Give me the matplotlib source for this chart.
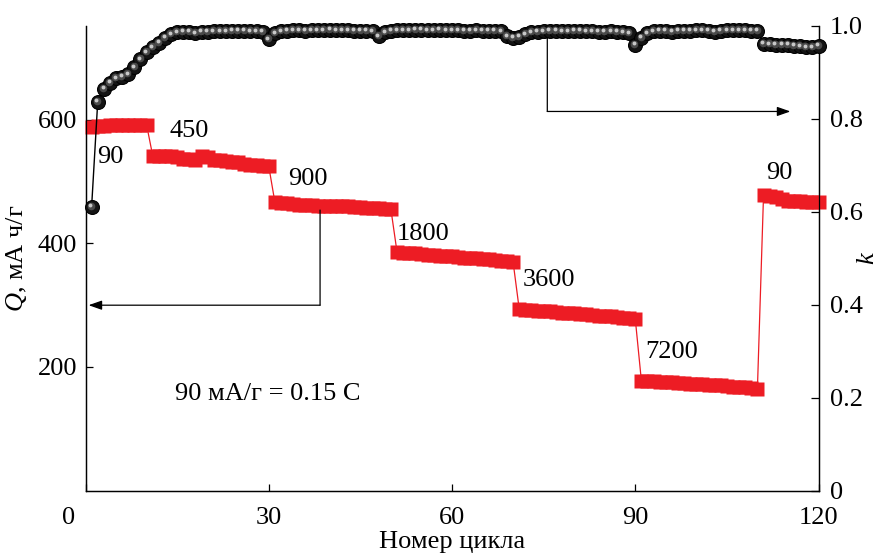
import numpy as np
import matplotlib
matplotlib.use('Agg')
import matplotlib.pyplot as plt
from matplotlib.transforms import ScaledTranslation

plt.rcParams['font.family'] = ['Liberation Serif', 'DejaVu Serif']
plt.rcParams['mathtext.fontset'] = 'custom'
plt.rcParams['mathtext.rm'] = 'Liberation Serif'
plt.rcParams['mathtext.it'] = 'Liberation Serif:italic'

# ---------------- data ----------------
cycles = np.arange(1, 121)

k_values = [
    0.611, 0.837, 0.865, 0.878, 0.887, 0.891, 0.896, 0.911, 0.928, 0.943,
    0.954, 0.964, 0.975, 0.982, 0.986, 0.988, 0.988, 0.984, 0.987, 0.988,
    0.989, 0.989, 0.989, 0.990, 0.990, 0.990, 0.989, 0.989, 0.988, 0.971,
    0.984, 0.989,
    0.990, 0.991, 0.991, 0.990, 0.991, 0.991, 0.991, 0.992, 0.991, 0.991,
    0.991, 0.990, 0.990, 0.990, 0.989,
    0.978, 0.986,
    0.990, 0.991, 0.991, 0.991, 0.992, 0.992, 0.991, 0.991, 0.992, 0.991,
    0.991, 0.991, 0.990, 0.990, 0.991, 0.990, 0.990, 0.990, 0.989,
    0.978, 0.975, 0.977, 0.982, 0.986,
    0.988, 0.989, 0.990, 0.990, 0.989, 0.989, 0.990, 0.990, 0.989, 0.989,
    0.988, 0.988, 0.989, 0.988, 0.986, 0.984,
    0.960, 0.975, 0.984,
    0.989, 0.990, 0.990, 0.987, 0.990, 0.990, 0.990, 0.991, 0.991, 0.990,
    0.988, 0.990, 0.991, 0.991, 0.991, 0.991, 0.990, 0.990,
    0.962, 0.961, 0.960, 0.960, 0.959, 0.958, 0.956, 0.954, 0.954, 0.958,
]

q_rate90 = [589, 590, 590, 591, 591, 591, 592, 592, 592, 592]
q_rate450 = [542, 542, 541, 541, 540, 536, 536, 535, 541, 540,
             535, 535, 533, 532, 532, 528, 527, 527, 526, 525]
q_rate900 = [467, 466, 465, 464, 463, 462, 462, 461, 461, 461,
             460, 460, 460, 459, 459, 458, 458, 457, 456, 455]
q_rate1800 = [386, 385, 384, 384, 383, 382, 381, 380, 380, 379,
              378, 377, 377, 376, 375, 374, 373, 372, 371, 370]
q_rate3600 = [294, 293, 292, 291, 291, 290, 289, 288, 287, 287,
              286, 285, 284, 283, 283, 282, 281, 280, 279, 278]
q_rate7200 = [178, 177, 177, 176, 176, 175, 174, 174, 173, 172,
              172, 171, 170, 170, 169, 168, 168, 167, 166, 165]
q_rate90b = [478, 477, 475, 472, 469, 468, 468, 467, 467, 467]
q_values = (q_rate90 + q_rate450 + q_rate900 + q_rate1800 +
            q_rate3600 + q_rate7200 + q_rate90b)

rate_labels = ['90', '450', '900', '1800', '3600', '7200', '90']
rate_label_pos = [(1.9, 531), (13.8, 572), (33.2, 494), (51.0, 405),
                  (71.5, 331), (91.6, 214), (111.4, 504)]

x_ticks = [0, 30, 60, 90, 120]
q_ticks = [200, 400, 600]
k_ticks = [0, 0.2, 0.4, 0.6, 0.8, 1.0]
k_tick_labels = ['0', '0.2', '0.4', '0.6', '0.8', '1.0']

# ---------------- figure ----------------
fig = plt.figure(figsize=(8.77, 5.53), dpi=100)
ax = fig.add_axes([0.0975, 0.113, 0.8358, 0.840])
ax2 = ax.twinx()

red = '#ED1C24'
FS = 19

# capacity series (red)
ax.plot(cycles, q_values, '-', color=red, lw=0.9, marker='s', ms=9.4,
        mfc=red, mec='none', clip_on=False, zorder=3)

# efficiency series (spheres)
ax2.plot(cycles, k_values, '-', color='black', lw=1.0, clip_on=False, zorder=3)
ax2.plot(cycles, k_values, 'o', ms=10, mfc='#141414', mec='black', mew=0.8,
         clip_on=False, zorder=4)
off1 = ax2.transData + ScaledTranslation(-0.8 / 100, 1.0 / 100, fig.dpi_scale_trans)
off2 = ax2.transData + ScaledTranslation(-1.3 / 100, 1.6 / 100, fig.dpi_scale_trans)
ax2.plot(cycles, k_values, 'o', ms=5.5, mfc='#4a4a4a', mec='none',
         clip_on=False, zorder=5, transform=off1)
ax2.plot(cycles, k_values, 'o', ms=2.8, mfc='#c8c8c8', mec='none',
         clip_on=False, zorder=6, transform=off2)

# axes limits / ticks
ax.set_xlim(0, 120)
ax.set_ylim(0, 752)
ax2.set_ylim(0, 1.0)
ax.set_xticks(x_ticks)
ax.set_yticks(q_ticks)
ax2.set_yticks(k_ticks)
ax2.set_yticklabels(k_tick_labels)

for a in (ax, ax2):
    a.spines['top'].set_visible(False)
    for s in a.spines.values():
        s.set_linewidth(0.9)
ax.tick_params(axis='both', direction='in', length=5, width=0.9,
               labelsize=FS, top=False, right=False)
ax.tick_params(axis='y', pad=6)
ax.tick_params(axis='x', pad=12)
ax2.tick_params(axis='y', direction='in', length=6, width=0.9,
                labelsize=FS, pad=8)

# shift the "0" x label to the left like the reference
lbl0 = ax.get_xticklabels()[0]
lbl0.set_transform(lbl0.get_transform() +
                   ScaledTranslation(-17 / 100, 0, fig.dpi_scale_trans))

ax.set_xlabel('Номер цикла', fontsize=FS, labelpad=1)
ax.set_ylabel(r'$\mathit{Q}$, мА ч/г', fontsize=FS, labelpad=6)
ax2.set_ylabel(r'$\mathit{k}$', fontsize=FS, rotation=90)
ax2.yaxis.set_label_coords(1.052, 0.5)

# rate labels
for txt, (x, y) in zip(rate_labels, rate_label_pos):
    ax.text(x, y, txt, fontsize=FS, ha='left', va='baseline', zorder=7)
ax.text(14.7, 146, '90 мА/г = 0.15 С', fontsize=FS, ha='left', va='baseline')

# arrows
ax.annotate('', xy=(38.4, 300), xytext=(38.4, 454),
            arrowprops=dict(arrowstyle='-', color='black', lw=0.9,
                            shrinkA=0, shrinkB=0))
ax.annotate('', xy=(0.5, 300), xytext=(38.4, 300),
            arrowprops=dict(arrowstyle='-|>,head_length=0.8,head_width=0.28',
                            color='black', lw=0.9, shrinkA=0, shrinkB=0,
                            mutation_scale=10))
ax2.annotate('', xy=(75.6, 0.816), xytext=(75.6, 0.975),
             arrowprops=dict(arrowstyle='-', color='black', lw=0.9,
                             shrinkA=0, shrinkB=0))
ax2.annotate('', xy=(115.4, 0.816), xytext=(75.6, 0.816),
             arrowprops=dict(arrowstyle='-|>,head_length=0.8,head_width=0.28',
                             color='black', lw=0.9, shrinkA=0, shrinkB=0,
                             mutation_scale=10))

fig.savefig('out.png', dpi=100)
